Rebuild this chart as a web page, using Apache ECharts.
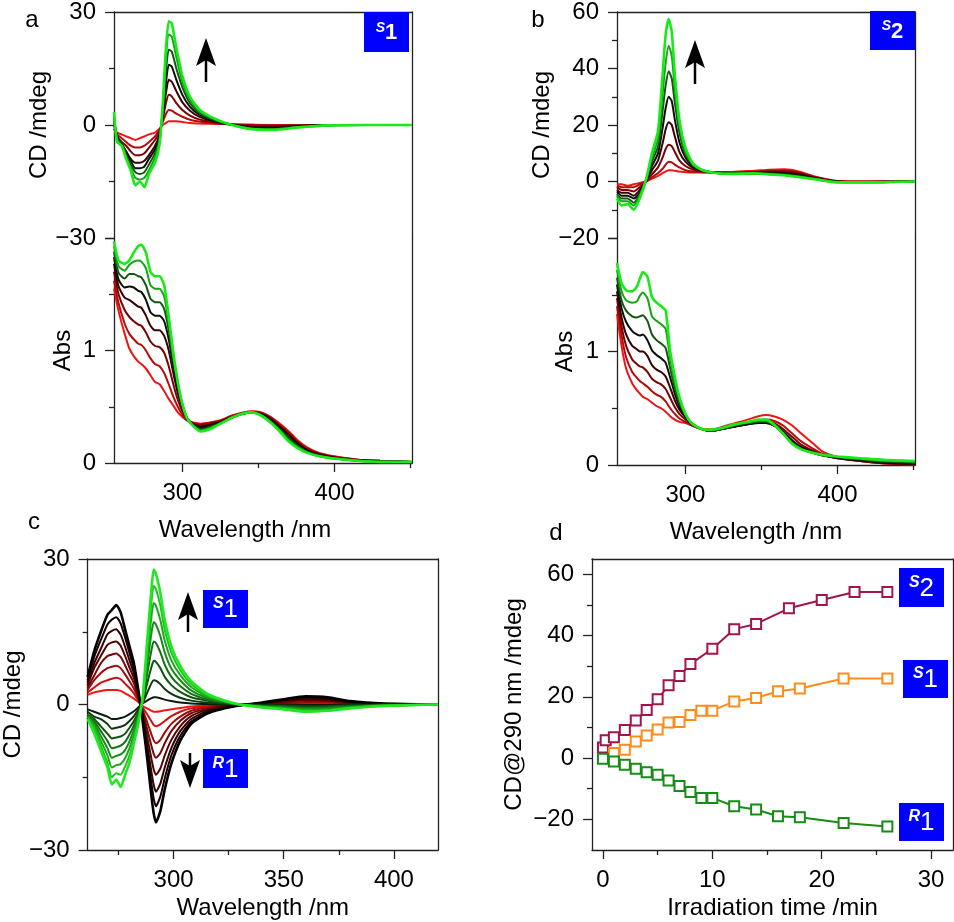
<!DOCTYPE html>
<html>
<head>
<meta charset="utf-8">
<script src="https://cdn.jsdelivr.net/npm/echarts@6.0.0/dist/echarts.min.js"></script>
<style>
html,body{margin:0;padding:0;background:#fff}
#main{width:954px;height:922px}
</style>
</head>
<body>
<div id="main"></div>
<script>
// panel a, CD part (wavelength /nm, CD /mdeg), red -> black -> green
const wlCdA = [255,257,260,263,266,269,272,275,278,282,285,287,289,291,293,296,300,305,311,319,331,345,360,375,395,420,451];
const cdA0 = [-1,-2,-2.5,-3,-3.5,-4,-3.5,-3,-2.5,-2,-1,0,0.5,1,1,1,0.8,0.5,0.4,0.3,0.2,0.1,0,0,0,0,0];
const cdA1 = [-1,-2.5,-3.5,-4.5,-5.5,-6,-6,-5.5,-4.5,-3,-1.2,0.8,2.8,4,3.8,3,2.2,1.4,0.9,0.5,0.2,0,0,0,0,0,0];
const cdA2 = [0,-3,-4.5,-5.5,-7,-8,-8,-7.5,-6,-4,-1.8,1.3,5.5,8,7.6,5.8,4,2.5,1.5,0.8,0.2,-0.2,-0.3,-0.2,0,0,0];
const cdA3 = [1,-3,-5,-7,-9,-10,-10,-9.5,-8,-5.5,-2.5,2,8,12,11.5,9,6,3.8,2.2,1.1,0.2,-0.5,-0.6,-0.3,0,0,0];
const cdA4 = [1.5,-3,-5,-7.5,-9.5,-11.5,-11.5,-11,-9,-6.5,-3,3,10.5,16,15.5,12,8,4.8,2.8,1.4,0.2,-0.7,-0.9,-0.4,0,0,0];
const cdA5 = [2,-3.5,-5,-8,-10.5,-12.5,-13,-12.5,-10.5,-7.5,-3.5,3.5,13.5,20,19.5,15,10,5.8,3.2,1.6,0.2,-0.9,-1.1,-0.5,-0.1,0,0];
const cdA6 = [2.5,-4,-5.5,-8.5,-11.5,-14,-14.5,-14,-12,-8.5,-4.5,4.5,17,24,23.5,18,11.5,6.7,3.7,1.9,0.2,-1,-1.2,-0.6,-0.1,0,0];
const cdA7 = [3.5,-4.5,-5.5,-9,-12,-16,-15,-16.5,-13,-10,-5,5,19.5,27.5,27,20.5,13,7.5,4.2,2.1,0.2,-1.1,-1.3,-0.7,-0.1,0,0];

// panel a, absorbance part
const wlAbsA = [255,258,262,265,268,271,273,276,279,282,285,288,291,294,297,300,303,307,312,318,325,332,340,346,352,358,364,370,376,382,390,400,415,430,451];
const absA0 = [1.55,1.35,1.15,1.02,0.95,0.90,0.88,0.84,0.78,0.72,0.70,0.64,0.57,0.51,0.45,0.41,0.38,0.36,0.35,0.36,0.38,0.42,0.45,0.46,0.45,0.41,0.35,0.28,0.20,0.14,0.09,0.06,0.03,0.02,0.01];
const absA1 = [1.62,1.42,1.24,1.15,1.10,1.06,1.05,1.00,0.93,0.88,0.86,0.80,0.70,0.59,0.50,0.43,0.38,0.355,0.345,0.355,0.375,0.415,0.445,0.455,0.445,0.405,0.34,0.27,0.19,0.13,0.085,0.055,0.03,0.02,0.01];
const absA2 = [1.70,1.50,1.36,1.30,1.26,1.23,1.22,1.16,1.08,1.04,1.03,0.98,0.86,0.70,0.56,0.46,0.39,0.35,0.335,0.35,0.37,0.41,0.44,0.45,0.44,0.40,0.33,0.26,0.18,0.12,0.08,0.05,0.03,0.02,0.01];
const absA3 = [1.77,1.57,1.47,1.45,1.42,1.39,1.38,1.31,1.22,1.18,1.18,1.13,1.00,0.80,0.62,0.49,0.40,0.345,0.32,0.34,0.365,0.405,0.44,0.45,0.435,0.39,0.32,0.25,0.17,0.115,0.075,0.05,0.025,0.015,0.01];
const absA4 = [1.83,1.63,1.56,1.57,1.56,1.53,1.52,1.45,1.34,1.31,1.31,1.26,1.10,0.87,0.66,0.51,0.40,0.34,0.31,0.33,0.36,0.40,0.44,0.45,0.43,0.38,0.31,0.23,0.16,0.11,0.07,0.045,0.025,0.015,0.01];
const absA5 = [1.88,1.69,1.64,1.68,1.68,1.66,1.65,1.58,1.46,1.43,1.43,1.37,1.18,0.92,0.69,0.52,0.40,0.335,0.30,0.32,0.355,0.40,0.44,0.45,0.425,0.37,0.30,0.22,0.15,0.10,0.065,0.04,0.02,0.01,0.01];
const absA6 = [1.93,1.75,1.71,1.76,1.79,1.80,1.79,1.73,1.58,1.55,1.55,1.48,1.25,0.95,0.71,0.52,0.40,0.33,0.29,0.31,0.35,0.40,0.44,0.45,0.42,0.36,0.29,0.20,0.14,0.095,0.06,0.04,0.02,0.01,0.01];
const absA7 = [1.97,1.80,1.77,1.80,1.87,1.93,1.94,1.87,1.70,1.66,1.66,1.58,1.30,0.98,0.72,0.52,0.40,0.33,0.28,0.30,0.35,0.40,0.44,0.45,0.42,0.36,0.28,0.19,0.13,0.09,0.06,0.04,0.02,0.01,0.01];

// panel b, CD part
const wlCdB = [255,258,262,266,270,274,278,282,285,287,289,291,293,296,300,305,311,320,330,345,355,365,375,385,400,420,451];
const cdB0 = [-1,-1,-1.5,-1,-0.5,0,1,2,3,3.5,4,4,3.8,3.5,3.3,3.2,3.2,3.3,3.4,3.8,4.2,4.3,3.5,1.8,0.2,0,0];
const cdB1 = [-1.5,-2,-2,-2,-1,0,1.5,3,4.5,6,7,6.8,6,5,4,3.5,3.3,3.2,3.2,3.5,3.8,3.9,3.2,1.6,0.1,0,0];
const cdB2 = [-2,-3,-3,-3.5,-2,0,2.5,5,8.5,11.5,13,12.5,10.5,7.5,5.5,4.2,3.6,3.2,3.1,3.3,3.5,3.5,2.9,1.4,0,-0.1,0];
const cdB3 = [-3,-4,-4,-5,-3,0,4,7.5,13.5,18.5,21,20,16,10.5,7,4.8,3.8,3.1,3,3.1,3.2,3.1,2.5,1.2,0,-0.2,0];
const cdB4 = [-3.5,-5,-5,-6,-4,0,5.5,10,19,26,30,28.5,22,14,8.5,5.3,4,3.1,2.9,3,3,2.8,2.2,1.1,-0.1,-0.2,0];
const cdB5 = [-4.5,-6,-6,-7.5,-4.5,0.5,7,12.5,25,34,39,36.5,28,17.5,9.5,5.7,4,3,2.8,2.9,2.8,2.5,1.9,1,-0.2,-0.3,0];
const cdB6 = [-5,-7,-7,-8.5,-5,0.5,8.5,15,31,42,48,44.5,33,20,10.5,6,4,3,2.7,2.8,2.6,2.3,1.7,0.9,-0.3,-0.3,0];
const cdB7 = [-6,-8.5,-8,-10,-6,0.5,10,18,38,52,57.5,53,38,22,12,6.4,4.1,3,2.7,2.9,2.5,2.2,1.5,0.8,-0.3,-0.3,0];

// panel b, absorbance part
const wlAbsB = [255,258,261,265,268,270,272,275,278,281,284,287,290,293,296,300,304,310,317,325,333,341,348,353,358,364,370,376,383,390,400,415,430,451];
const absB0 = [1.33,1.05,0.85,0.72,0.66,0.63,0.60,0.58,0.55,0.52,0.50,0.47,0.43,0.40,0.38,0.37,0.35,0.32,0.31,0.34,0.37,0.40,0.43,0.44,0.43,0.40,0.35,0.28,0.20,0.12,0.07,0.035,0.015,0.005];
const absB1 = [1.40,1.14,0.95,0.82,0.77,0.74,0.72,0.69,0.65,0.62,0.60,0.56,0.50,0.45,0.41,0.38,0.35,0.32,0.31,0.33,0.35,0.37,0.39,0.40,0.39,0.35,0.28,0.21,0.15,0.10,0.065,0.035,0.015,0.005];
const absB2 = [1.47,1.22,1.05,0.93,0.89,0.87,0.86,0.82,0.76,0.73,0.71,0.67,0.59,0.51,0.45,0.40,0.36,0.32,0.30,0.32,0.34,0.36,0.38,0.38,0.37,0.32,0.25,0.18,0.13,0.09,0.06,0.035,0.015,0.01];
const absB3 = [1.53,1.30,1.15,1.05,1.02,1.00,1.00,0.96,0.88,0.84,0.82,0.78,0.68,0.57,0.49,0.42,0.36,0.32,0.30,0.32,0.34,0.36,0.37,0.37,0.35,0.30,0.22,0.16,0.12,0.085,0.06,0.04,0.02,0.01];
const absB4 = [1.59,1.38,1.26,1.18,1.15,1.14,1.15,1.10,1.01,0.97,0.94,0.90,0.77,0.63,0.52,0.43,0.37,0.32,0.30,0.32,0.34,0.36,0.37,0.37,0.35,0.29,0.21,0.15,0.115,0.085,0.065,0.045,0.025,0.015];
const absB5 = [1.65,1.45,1.36,1.31,1.30,1.31,1.32,1.27,1.15,1.10,1.07,1.03,0.85,0.68,0.55,0.44,0.37,0.32,0.30,0.32,0.35,0.37,0.38,0.38,0.35,0.28,0.20,0.145,0.11,0.085,0.07,0.05,0.03,0.02];
const absB6 = [1.72,1.53,1.45,1.43,1.44,1.49,1.52,1.47,1.31,1.27,1.24,1.20,0.93,0.73,0.58,0.45,0.37,0.32,0.31,0.33,0.355,0.375,0.39,0.39,0.355,0.28,0.19,0.14,0.11,0.09,0.073,0.055,0.04,0.03];
const absB7 = [1.78,1.60,1.54,1.53,1.57,1.64,1.70,1.66,1.48,1.43,1.40,1.36,1.00,0.78,0.60,0.45,0.37,0.32,0.31,0.33,0.36,0.38,0.40,0.40,0.36,0.28,0.19,0.14,0.11,0.09,0.075,0.06,0.045,0.035];

// panel c, R1 family (red -> black) and S1 family (black -> green)
const wlC = [261,264,267,270,272,274,276,278,280,282,284,286,288,290,291,292,294,296,299,303,308,315,322,330,340,350,360,370,380,395,420];
const cdR0 = [2,2.5,2.8,3,3,3,2.8,2.3,1.8,1.2,0.5,-0.3,-0.8,-1.3,-1.5,-1.5,-1.4,-1.2,-1,-0.7,-0.4,-0.2,-0.1,0,0,0.1,0.1,0.1,0,0,0];
const cdR1 = [2.5,3.5,4.5,5,5.3,5.5,5.2,4.3,3.4,2.3,0.8,-0.7,-2,-3.5,-4.2,-4.5,-4.1,-3.4,-2.4,-1.5,-0.8,-0.4,-0.2,0,0.1,0.2,0.3,0.3,0.1,0,0];
const cdR2 = [3,5,6.5,7.5,7.8,8,7.5,6.2,4.8,3.3,1.2,-1.2,-3.6,-6.2,-7.4,-8,-7.3,-5.8,-4,-2.5,-1.3,-0.6,-0.3,0,0.1,0.3,0.5,0.5,0.2,0.1,0];
const cdR3 = [3.5,6,8.5,10,10.3,10.5,9.8,8.1,6.2,4.4,1.6,-1.6,-5,-8.6,-10.2,-11,-10,-8,-5.5,-3.4,-1.8,-0.9,-0.4,-0.1,0.2,0.5,0.8,0.7,0.3,0.1,0];
const cdR4 = [4,7.5,10,12.3,12.8,13,12.1,10,7.6,5.4,2,-2.1,-6.6,-11.3,-13.4,-14.5,-13.2,-10.5,-7.3,-4.5,-2.4,-1.1,-0.5,-0.1,0.2,0.7,1,0.9,0.4,0.1,0];
const cdR5 = [4.5,8.5,11.5,14.5,15.2,15.5,14.4,11.9,9.1,6.4,2.3,-2.6,-8.2,-14,-16.6,-18,-16.3,-13,-9,-5.5,-3,-1.4,-0.7,-0.1,0.3,0.8,1.3,1.1,0.5,0.1,0];
const cdR6 = [5,9.8,13.3,16.5,17.5,18,16.7,13.8,10.6,7.4,2.7,-3,-9.5,-16.4,-19.4,-21,-19,-15.2,-10.5,-6.5,-3.5,-1.7,-0.8,-0.2,0.3,1,1.5,1.3,0.6,0.2,0];
const cdR7 = [5.7,11,15,18.5,19.5,20.5,19,15.5,12,8.5,3,-3.5,-11,-19,-22.5,-24.3,-22,-17.5,-12.2,-7.5,-4,-1.9,-0.9,-0.2,0.4,1.1,1.7,1.5,0.7,0.2,0];
const cdS0 = [-1,-1.5,-2,-2.5,-3,-3,-2.8,-2.5,-2,-1.4,-0.6,0.2,0.8,1.3,1.5,1.5,1.3,1,0.7,0.4,0.2,0.1,0,0,0,0,-0.1,-0.1,0,0,0];
const cdS1 = [-1.5,-2.5,-3,-4,-5,-4.8,-4.6,-4.2,-3.4,-2.4,-1,0.3,2.4,4.4,5,4.9,4.2,3.2,2.2,1.4,0.8,0.4,0.2,0,-0.1,-0.2,-0.3,-0.3,-0.2,0,0];
const cdS2 = [-2,-3,-4.5,-6,-7,-6.8,-6.6,-6,-4.8,-3.4,-1.6,0.5,4.3,7.8,9,8.8,7.5,5.7,4,2.6,1.5,0.8,0.3,0,-0.2,-0.3,-0.5,-0.4,-0.2,-0.1,0];
const cdS3 = [-2,-3.5,-5.5,-7.5,-9,-8.8,-8.5,-7.7,-6.2,-4.3,-2,0.7,6.2,11.3,13,12.7,10.8,8.2,5.7,3.8,2.2,1.1,0.5,0,-0.3,-0.5,-0.7,-0.6,-0.4,-0.1,0];
const cdS4 = [-2.5,-4,-6.5,-9,-11,-10.6,-10.3,-9.4,-7.6,-5.2,-2.4,0.9,8,14.8,17,16.5,14.1,10.7,7.4,5,2.9,1.4,0.6,0,-0.4,-0.6,-0.9,-0.8,-0.5,-0.2,0];
const cdS5 = [-2.5,-4.5,-7.5,-10.5,-13,-12.5,-12.3,-11.1,-9,-6.2,-2.9,1.1,9.8,18.3,21,20.4,17.4,13.2,9.1,6.1,3.6,1.7,0.8,0,-0.4,-0.7,-1.1,-1,-0.6,-0.2,0];
const cdS6 = [-3,-5,-8.5,-12,-15,-14.2,-14.5,-12.8,-10.5,-7.2,-3.5,1.3,11.5,21.3,24.5,23.8,20.4,15.4,10.7,7.1,4.2,2,0.9,0,-0.5,-0.9,-1.3,-1.2,-0.7,-0.3,0];
const cdS7 = [-3,-6,-9.5,-13,-16.5,-15.5,-17,-14.5,-12,-8,-4,1.5,13,24,27.8,27,23,17.4,12,8,4.8,2.3,1,0,-0.6,-1,-1.5,-1.3,-0.8,-0.3,0];

// panel d, CD at 290 nm vs irradiation time
const timeS2 = [0,0.25,1,2,3,4,5,6,7,8,10,12,14,17,20,23,26];
const cdS2t = [3.5,5.8,6.8,9.2,12.3,15.7,19.2,23.8,26.8,30.7,35.7,42.1,43.8,48.9,51.6,54.2,54.2];
const timeS1 = [1,2,3,4,5,6,7,8,9,10,12,14,16,18,22,26];
const cdS1t = [1.7,2.7,5.4,7.4,9.3,11.6,11.8,14.1,15.5,15.5,18.5,19.6,21.8,22.7,26.0,26.0];
const timeR1 = [0,1,2,3,4,5,6,7,8,9,10,12,14,16,18,22,26];
const cdR1t = [-0.2,-1.1,-2.2,-3.5,-4.6,-5.4,-7.3,-9.1,-11.1,-13.0,-13.0,-15.7,-16.8,-19.0,-19.3,-21.2,-22.3];

const colRG = ['#f01414','#b40c0c','#780606','#3a0202','#081008','#125812','#14a414','#18ea18'];
const colR = ['#f41616','#cc1010','#a00a0a','#780606','#520404','#340202','#1a0101','#000000'];
const colS = ['#0c1c0c','#0f380f','#125412','#157015','#188c18','#1ba81b','#1ec61e','#20e820'];

const FONT = '"Liberation Sans", Arial, sans-serif';
const AX = '#222';
const minus = v => (v < 0 ? '\u2212' + (-v) : String(v));

const chart = echarts.init(document.getElementById('main'));

function spectra(wl, curves, colors, xi, yi) {
  return curves.map((c, k) => ({
    type: 'line', xAxisIndex: xi, yAxisIndex: yi,
    symbol: 'none', smooth: 0.2, silent: true,
    lineStyle: {color: colors[k], width: k === curves.length - 1 ? 2.6 : 2},
    data: wl.map((w, i) => [w, c[i]])
  }));
}

const lineStyle = {color: AX, width: 1.3};
const txt = {color: '#000', fontSize: 24, fontFamily: FONT};

function frameX(gi, min, max) {
  return {gridIndex: gi, type: 'value', min, max, position: 'top',
    axisLine: {show: true, onZero: false, lineStyle}, axisTick: {show: false},
    axisLabel: {show: false}, splitLine: {show: false}};
}
function frameY(gi) {
  return {gridIndex: gi, type: 'value', min: 0, max: 1, position: 'right',
    axisLine: {show: true, onZero: false, lineStyle}, axisTick: {show: false},
    axisLabel: {show: false}, splitLine: {show: false}};
}
function xMajor(gi, min, max, vals, name, gap, pad) {
  return {gridIndex: gi, type: 'value', min, max, position: 'bottom',
    axisLine: {show: true, onZero: false, lineStyle},
    axisTick: {show: true, length: 9, customValues: vals, lineStyle},
    axisLabel: Object.assign({show: true, customValues: vals, margin: 18}, txt),
    splitLine: {show: false},
    name, nameLocation: 'middle', nameGap: gap,
    nameTextStyle: Object.assign({padding: pad}, txt)};
}
function xMinor(gi, min, max, vals) {
  return {gridIndex: gi, type: 'value', min, max, position: 'bottom',
    axisLine: {show: false, onZero: false},
    axisTick: {show: true, length: 5, customValues: vals, lineStyle},
    axisLabel: {show: false}, splitLine: {show: false}};
}
function yMain(gi, min, max, interval, name, gap, hide) {
  return {gridIndex: gi, type: 'value', min, max, interval, position: 'left',
    axisLine: {show: true, onZero: false, lineStyle},
    axisTick: {show: true, length: 9, lineStyle},
    minorTick: {show: true, splitNumber: 2, length: 5, lineStyle},
    axisLabel: Object.assign({margin: 18, formatter: v => (v === hide ? '' : minus(v))}, txt),
    splitLine: {show: false},
    name, nameLocation: 'middle', nameGap: gap, nameTextStyle: txt};
}

const xAxes = [
  frameX(0, 255, 451),
  xMajor(1, 255, 451, [300, 400], 'Wavelength /nm', 55, [0, 36, 0, 0]),
  xMinor(1, 255, 451, [350, 450]),
  frameX(2, 255, 451),
  xMajor(3, 255, 451, [300, 400], 'Wavelength /nm', 55, [0, 20, 0, 0]),
  xMinor(3, 255, 451, [350, 450]),
  frameX(4, 261, 420),
  xMajor(4, 261, 420, [300, 350, 400], 'Wavelength /nm', 46, 0),
  xMinor(4, 261, 420, [275, 325, 375]),
  frameX(5, -1, 32),
  xMajor(5, -1, 32, [0, 10, 20, 30], 'Irradiation time /min', 46, 0),
  xMinor(5, -1, 32, [5, 15, 25])
];

const yAxes = [
  yMain(0, -30, 30, 30, 'CD /mdeg', 54, null),
  frameY(0),
  yMain(1, 0, 2, 1, 'Abs', 39, 2),
  frameY(1),
  yMain(2, -20, 60, 20, 'CD /mdeg', 49, null),
  frameY(2),
  yMain(3, 0, 2, 1, 'Abs', 40, 2),
  frameY(3),
  yMain(4, -30, 30, 30, 'CD /mdeg', 53, null),
  frameY(4),
  {gridIndex: 5, type: 'value', min: -30, max: 65, position: 'left',
    axisLine: {show: true, onZero: false, lineStyle},
    axisTick: {show: true, length: 9, customValues: [-20, 0, 20, 40, 60], lineStyle},
    axisLabel: Object.assign({margin: 18, customValues: [-20, 0, 20, 40, 60], formatter: minus}, txt),
    splitLine: {show: false},
    name: 'CD@290 nm /mdeg', nameLocation: 'middle', nameGap: 66, nameTextStyle: txt},
  {gridIndex: 5, type: 'value', min: -30, max: 65, position: 'left',
    axisLine: {show: false, onZero: false},
    axisTick: {show: true, length: 5, customValues: [-10, 10, 30, 50], lineStyle},
    axisLabel: {show: false}, splitLine: {show: false}},
  frameY(5)
];

const series = [].concat(
  spectra(wlCdA, [cdA0, cdA1, cdA2, cdA3, cdA4, cdA5, cdA6, cdA7], colRG, 0, 0),
  spectra(wlAbsA, [absA0, absA1, absA2, absA3, absA4, absA5, absA6, absA7], colRG, 1, 2),
  spectra(wlCdB, [cdB0, cdB1, cdB2, cdB3, cdB4, cdB5, cdB6, cdB7], colRG, 3, 4),
  spectra(wlAbsB, [absB0, absB1, absB2, absB3, absB4, absB5, absB6, absB7], colRG, 4, 6),
  spectra(wlC, [cdR0, cdR1, cdR2, cdR3, cdR4, cdR5, cdR6, cdR7], colR, 7, 8),
  spectra(wlC, [cdS0, cdS1, cdS2, cdS3, cdS4, cdS5, cdS6, cdS7], colS, 7, 8),
  [
    {name: 'S2', color: '#a0154c', t: timeS2, v: cdS2t},
    {name: 'S1', color: '#ff8c1a', t: timeS1, v: cdS1t},
    {name: 'R1', color: '#168c16', t: timeR1, v: cdR1t}
  ].map(s => ({
    type: 'line', name: s.name, xAxisIndex: 10, yAxisIndex: 10,
    symbol: 'emptyRect', symbolSize: 10, showAllSymbol: true,
    lineStyle: {color: s.color, width: 2},
    itemStyle: {color: s.color, borderColor: s.color, borderWidth: 2.5},
    data: s.t.map((t, i) => [t, s.v[i]])
  }))
);

// annotations: panel letters, arrows, labelled blue boxes
const graphics = [];
[['a', 32, 20], ['b', 538, 20], ['c', 34, 522], ['d', 556, 533]].forEach(([t, x, y]) => {
  graphics.push({type: 'text', x, y, z: 20,
    style: {text: t, fill: '#000', font: '24px ' + FONT, align: 'center', verticalAlign: 'middle',
      textAlign: 'center', textVerticalAlign: 'middle'}});
});
function upArrow(x, tip, bottom) {
  graphics.push({type: 'line', z: 20, shape: {x1: x, y1: tip + 20, x2: x, y2: bottom}, style: {stroke: '#000', lineWidth: 2.5}});
  graphics.push({type: 'polygon', z: 20, shape: {points: [[x, tip], [x - 10, tip + 28], [x, tip + 22], [x + 10, tip + 28]]}, style: {fill: '#000'}});
}
function downArrow(x, top, tip) {
  graphics.push({type: 'line', z: 20, shape: {x1: x, y1: top, x2: x, y2: tip - 20}, style: {stroke: '#000', lineWidth: 2.5}});
  graphics.push({type: 'polygon', z: 20, shape: {points: [[x, tip], [x - 10, tip - 28], [x, tip - 22], [x + 10, tip - 28]]}, style: {fill: '#000'}});
}
upArrow(206, 38, 82);
upArrow(695, 40, 84);
upArrow(188, 592, 632);
downArrow(190, 753, 788);

function tagBox(x, y, w, h, sup, num, big) {
  graphics.push({type: 'rect', z: 20, shape: {x, y, width: w, height: h}, style: {fill: '#0000ff'}});
  graphics.push({type: 'text', z: 21, x: x + w / 2, y: y + h / 2 + 1,
    style: {
      text: '{s|' + sup + '}{n|' + num + '}',
      align: 'center', verticalAlign: 'middle', textAlign: 'center', textVerticalAlign: 'middle',
      fill: '#fff',
      rich: {
        s: {fill: '#fff', fontSize: big ? 16 : 14, fontStyle: 'italic', fontWeight: 'bold',
          fontFamily: FONT, verticalAlign: 'top', padding: [0, 0, big ? 12 : 10, 0]},
        n: {fill: '#fff', fontSize: big ? 26 : 22, fontWeight: big ? 'normal' : 'bold', fontFamily: FONT}
      }
    }});
}
tagBox(364, 12, 45, 40, 'S', '1', false);
tagBox(870, 11, 45, 39, 'S', '2', false);
tagBox(203, 590, 45, 38, 'S', '1', true);
tagBox(203, 749, 45, 39, 'R', '1', true);
tagBox(899, 568, 45, 39, 'S', '2', true);
tagBox(903, 660, 45, 38, 'S', '1', true);
tagBox(899, 803, 45, 38, 'R', '1', true);

chart.setOption({
  animation: false,
  backgroundColor: '#fff',
  grid: [
    {left: 114, top: 10, width: 298, height: 228},
    {left: 114, top: 238, width: 298, height: 225},
    {left: 617, top: 11, width: 298, height: 227},
    {left: 617, top: 238, width: 298, height: 227},
    {left: 77, top: 559, width: 361, height: 291},
    {left: 592, top: 559, width: 361, height: 291}
  ],
  xAxis: xAxes,
  yAxis: yAxes,
  series,
  graphic: graphics
});
</script>
</body>
</html>
